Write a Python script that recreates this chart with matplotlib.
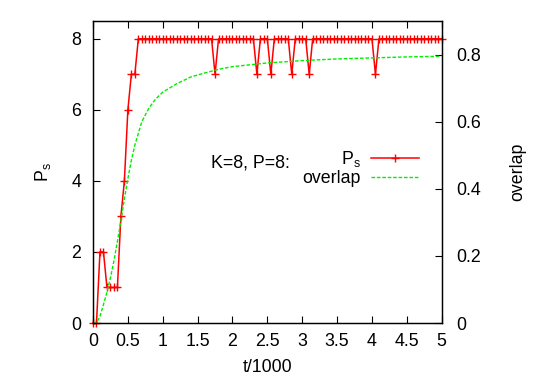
import numpy as np
import matplotlib
matplotlib.use("Agg")
import matplotlib.pyplot as plt

plt.rcParams['font.family'] = ['Liberation Sans', 'DejaVu Sans']
plt.rcParams['mathtext.default'] = 'regular'
plt.rcParams['font.size'] = 12.8

# P_s sampled every 0.05 (t/1000) from 0 to 5
t_ps = [round(0.05 * i, 2) for i in range(101)]
ps_early = [0, 0, 2, 2, 1, 1, 1, 1, 3, 4, 6, 7, 7]
dip_times = [1.75, 2.35, 2.55, 2.85, 3.1, 4.05]
ps_vals = ps_early + [7 if t in dip_times else 8 for t in t_ps[len(ps_early):]]

# overlap curve samples
t_ov = [0.0, 0.05, 0.1, 0.15, 0.2, 0.25, 0.3, 0.35, 0.4, 0.45, 0.5, 0.55, 0.6,
        0.7, 0.8, 0.9, 1.0, 1.2, 1.4, 1.6, 1.8, 2.0, 2.5, 3.0, 3.5, 4.0, 4.5, 5.0]
ov_vals = [0.0, 0.0, 0.02, 0.055, 0.092, 0.135, 0.185, 0.243, 0.305, 0.37, 0.43,
           0.485, 0.53, 0.6, 0.64, 0.668, 0.688, 0.713, 0.733, 0.745, 0.756,
           0.764, 0.775, 0.782, 0.787, 0.79, 0.793, 0.795]

xticks = [0, 0.5, 1, 1.5, 2, 2.5, 3, 3.5, 4, 4.5, 5]
xticklabels = ['0', '0.5', '1', '1.5', '2', '2.5', '3', '3.5', '4', '4.5', '5']
yticks = [0, 2, 4, 6, 8]
y2ticks = [0, 0.2, 0.4, 0.6, 0.8]
y2ticklabels = ['0', '0.2', '0.4', '0.6', '0.8']

fig = plt.figure(figsize=(5.45, 3.82), dpi=100)
ax = fig.add_axes([93/545, 1-323/382, (441.7-93)/545, (323-21)/382])
ax2 = ax.twinx()

l1, = ax.plot(t_ps, ps_vals, color='#ff0000', lw=1.1, marker='+', ms=6, mew=1.0,
              clip_on=False, label=r'P$_s$')
l2, = ax2.plot(t_ov, ov_vals, color='#00ee00', lw=1.0, dashes=(2.6, 1.3),
               label='overlap')

ax.set_xlim(0, 5)
ax.set_ylim(0, 8.5)
ax2.set_ylim(0, 0.9)
ax.set_xticks(xticks)
ax.set_xticklabels(xticklabels)
ax.set_yticks(yticks)
ax2.set_yticks(y2ticks)
ax2.set_yticklabels(y2ticklabels)

ax.tick_params(axis='x', direction='in', length=5, width=0.8, top=True, pad=7)
ax.tick_params(axis='y', direction='in', length=5, width=0.8, right=False, pad=8.5)
ax2.tick_params(axis='y', direction='in', length=5, width=0.8, pad=10.5)

for a in (ax, ax2):
    for s in a.spines.values():
        s.set_linewidth(0.9)
        s.set_color('black')

ax.set_xlabel('t/1000', labelpad=7)
ax.set_ylabel(r'P$_s$', labelpad=13)
ax2.set_ylabel('overlap', labelpad=20)

ax.text(0.565, 0.514, 'K=8, P=8:', transform=ax.transAxes, ha='right', va='baseline')
leg = ax2.legend([l1, l2], [r'P$_s$', 'overlap'], loc='upper right',
                 bbox_to_anchor=(0.936, 0.575), frameon=False, markerfirst=False,
                 handlelength=2.7, handletextpad=0.6, borderpad=0, borderaxespad=0,
                 labelspacing=0.05, markerscale=1.0)

fig.savefig('out.png', dpi=100)
